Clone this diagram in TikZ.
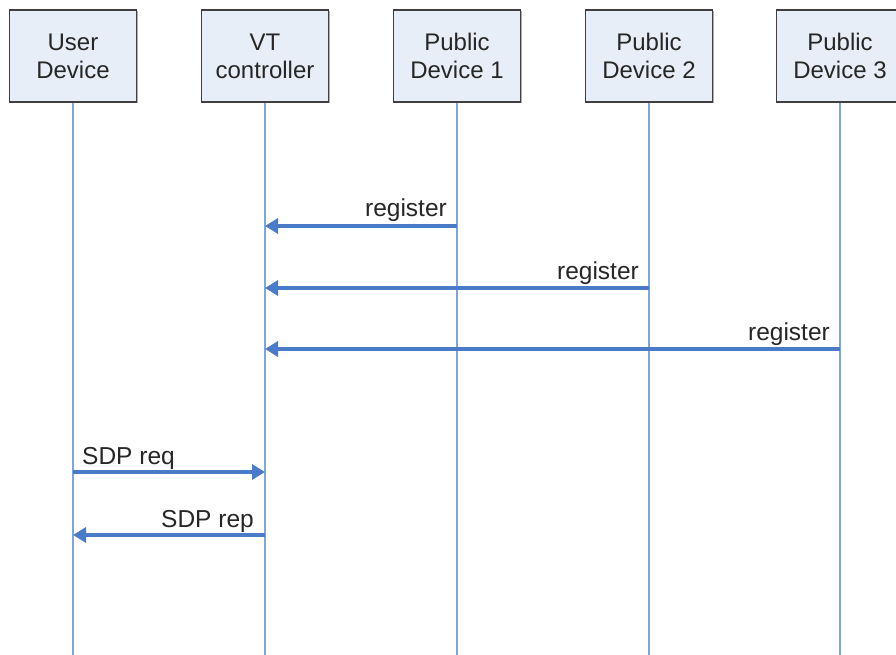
\documentclass[tikz,border=0pt]{standalone}
\usepackage{fontspec}
\setmainfont{Liberation Sans}
\usetikzlibrary{arrows.meta}
\definecolor{boxfill}{HTML}{E8EEF8}
\definecolor{boxline}{HTML}{3F3F3F}
\definecolor{shadowc}{HTML}{B0B0B0}
\definecolor{life}{HTML}{7FA6DC}
\definecolor{msg}{HTML}{4A7BC8}
\definecolor{txt}{HTML}{262626}
\begin{document}
\begin{tikzpicture}[x=1pt,y=-1pt,
  actor/.style={draw=boxline, fill=boxfill, line width=1.4pt, minimum width=127pt,
    minimum height=92pt, align=center, text=txt, inner sep=0pt,
    font=\fontsize{24}{28}\selectfont},
  lifeline/.style={draw=life, line width=1.4pt},
  msgarrow/.style={draw=msg, line width=3.4pt, -{Triangle[length=13pt,width=15pt]}},
  msglabel/.style={font=\fontsize{24.5}{28}\selectfont, text=txt, inner sep=0pt}]
\useasboundingbox[fill=white] (0,0) rectangle (896,655);

% shadows
\foreach \cx in {73,265,457,649,840}
  \fill[shadowc] (\cx-63.5+1.5,10+1.5) rectangle (\cx+63.5+1.5,102+1.5);

% actors
\node[actor] (ud) at (73,56) {User\\Device};
\node[actor] (vt) at (265,56) {VT\\controller};
\node[actor] (p1) at (457,56) {Public\\Device 1};
\node[actor] (p2) at (649,56) {Public\\Device 2};
\node[actor] (p3) at (840,56) {Public\\Device 3};

% lifeline ends
\coordinate (udE) at (73,655);
\coordinate (vtE) at (265,655);
\coordinate (p1E) at (457,655);
\coordinate (p2E) at (649,655);
\coordinate (p3E) at (840,655);
\draw[lifeline] (ud.south) -- (udE);
\draw[lifeline] (vt.south) -- (vtE);
\draw[lifeline] (p1.south) -- (p1E);
\draw[lifeline] (p2.south) -- (p2E);
\draw[lifeline] (p3.south) -- (p3E);

% message end points
\coordinate (m1s) at (457,226); \coordinate (m1e) at (265,226);
\coordinate (m2s) at (649,288); \coordinate (m2e) at (265,288);
\coordinate (m3s) at (840,349); \coordinate (m3e) at (265,349);
\coordinate (m4s) at (73,472);  \coordinate (m4e) at (265,472);
\coordinate (m5s) at (265,535); \coordinate (m5e) at (73,535);

\draw[msgarrow] (m1s) -- (m1e);
\draw[msgarrow] (m2s) -- (m2e);
\draw[msgarrow] (m3s) -- (m3e);
\draw[msgarrow] (m4s) -- (m4e);
\draw[msgarrow] (m5s) -- (m5e);

\node[msglabel, anchor=base east] (l1) at (447,216) {register};
\node[msglabel, anchor=base east] (l2) at (639,279) {register};
\node[msglabel, anchor=base east] (l3) at (830,340) {register};
\node[msglabel, anchor=base west] (l4) at (82,464) {SDP req};
\node[msglabel, anchor=base east] (l5) at (254,527) {SDP rep};
\end{tikzpicture}
\end{document}
